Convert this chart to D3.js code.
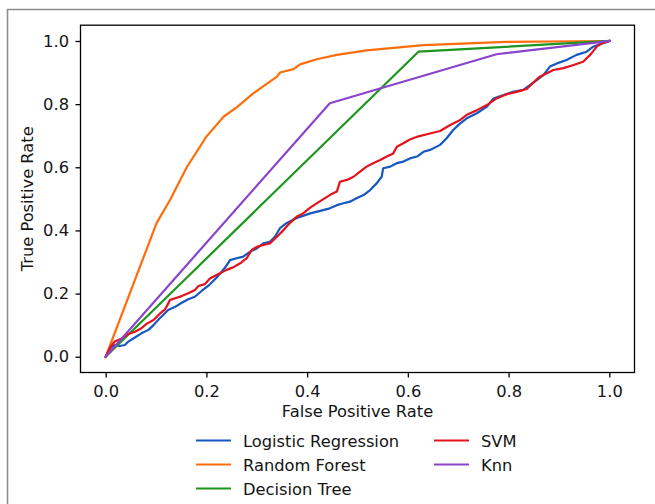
<!DOCTYPE html>
<html>
<head>
<meta charset="utf-8">
<script src="https://cdn.jsdelivr.net/npm/d3@7"></script>
<style>
  html, body { margin: 0; padding: 0; background: #fff; }
  svg { display: block; font-family: "DejaVu Sans", sans-serif; }
</style>
</head>
<body>
<svg id="chart" width="655" height="504"></svg>
<script>
// ---- data ----
const seriesNames = ["Logistic Regression", "Random Forest", "Decision Tree", "SVM", "Knn"];
const seriesColors = ["#1558c0", "#ff6d0a", "#1e961e", "#e3121c", "#8a44cc"];

const lrFpr = [0,0.009,0.018,0.028,0.038,0.045,0.058,0.071,0.085,0.095,0.105,0.114,0.124,0.138,0.151,0.164,0.177,0.191,0.204,0.220,0.236,0.247,0.260,0.273,0.287,0.300,0.313,0.326,0.336,0.346,0.359,0.373,0.386,0.406,0.426,0.445,0.459,0.472,0.485,0.498,0.512,0.525,0.538,0.548,0.551,0.565,0.578,0.591,0.604,0.618,0.631,0.644,0.664,0.677,0.690,0.704,0.717,0.737,0.757,0.770,0.790,0.809,0.829,0.843,0.856,0.869,0.882,0.896,0.915,0.935,0.955,0.968,0.982,1];
const lrTpr = [0,0.027,0.037,0.034,0.037,0.048,0.061,0.074,0.085,0.100,0.118,0.132,0.148,0.158,0.171,0.182,0.190,0.209,0.225,0.250,0.280,0.306,0.312,0.317,0.333,0.343,0.359,0.364,0.380,0.407,0.423,0.435,0.443,0.454,0.462,0.470,0.480,0.486,0.491,0.502,0.512,0.528,0.549,0.570,0.597,0.602,0.613,0.618,0.628,0.634,0.649,0.655,0.671,0.692,0.718,0.739,0.755,0.771,0.792,0.818,0.829,0.839,0.845,0.861,0.876,0.892,0.919,0.929,0.940,0.956,0.966,0.982,0.990,1];

const rfFpr = [0,0.101,0.128,0.161,0.200,0.234,0.260,0.293,0.340,0.346,0.373,0.386,0.419,0.459,0.518,0.631,0.796,1];
const rfTpr = [0,0.423,0.497,0.600,0.697,0.760,0.790,0.834,0.887,0.900,0.911,0.926,0.942,0.956,0.970,0.987,0.997,1];

const dtFpr = [0,0.621,1];
const dtTpr = [0,0.966,1];

const svmFpr = [0,0.009,0.018,0.032,0.045,0.058,0.071,0.081,0.095,0.108,0.118,0.128,0.138,0.151,0.164,0.177,0.184,0.197,0.207,0.220,0.227,0.240,0.253,0.267,0.280,0.290,0.300,0.313,0.326,0.340,0.353,0.366,0.379,0.392,0.406,0.426,0.445,0.459,0.465,0.479,0.492,0.505,0.518,0.531,0.545,0.558,0.571,0.578,0.591,0.604,0.621,0.644,0.664,0.684,0.704,0.717,0.737,0.757,0.776,0.796,0.816,0.836,0.849,0.862,0.876,0.889,0.909,0.929,0.948,0.962,0.975,0.985,1];
const svmTpr = [0,0.030,0.048,0.058,0.072,0.079,0.090,0.104,0.116,0.137,0.150,0.180,0.185,0.192,0.201,0.211,0.224,0.230,0.248,0.259,0.264,0.275,0.283,0.296,0.312,0.338,0.348,0.354,0.359,0.380,0.401,0.424,0.443,0.454,0.472,0.493,0.512,0.523,0.554,0.560,0.570,0.586,0.602,0.613,0.623,0.634,0.644,0.665,0.676,0.688,0.698,0.707,0.715,0.734,0.750,0.766,0.781,0.797,0.818,0.831,0.839,0.848,0.868,0.887,0.898,0.908,0.914,0.924,0.934,0.956,0.982,0.993,1];

const knnFpr = [0,0.445,0.776,1];
const knnTpr = [0,0.803,0.958,1];

const xTicks = [0.0, 0.2, 0.4, 0.6, 0.8, 1.0];
const yTicks = [0.0, 0.2, 0.4, 0.6, 0.8, 1.0];
const xLabel = "False Positive Rate";
const yLabel = "True Positive Rate";

// ---- layout ----
const svg = d3.select("#chart");
const plot = { left: 80.5, right: 634.5, top: 25.2, bottom: 372.5 };
const x = d3.scaleLinear().domain([-0.05, 1.05]).range([plot.left, plot.right]);
const y = d3.scaleLinear().domain([-0.05, 1.05]).range([plot.bottom, plot.top]);
const FS = "16.3px";
const TXT = "#151515";

svg.append("rect").attr("width", 655).attr("height", 504).attr("fill", "#fff");

// outer frame (cropped screenshot border)
svg.append("path")
  .attr("d", "M7.5,504 V9.5 H655")
  .attr("fill", "none").attr("stroke", "#8c8c8c").attr("stroke-width", 1.6);

// series
const series = [
  [lrFpr, lrTpr], [rfFpr, rfTpr], [dtFpr, dtTpr], [svmFpr, svmTpr], [knnFpr, knnTpr]
];
const line = d3.line().x(d => x(d[0])).y(d => y(d[1]));
const g = svg.append("g");
series.forEach((s, i) => {
  const pts = s[0].map((v, j) => [v, s[1][j]]);
  g.append("path").datum(pts)
    .attr("d", line)
    .attr("fill", "none")
    .attr("stroke", seriesColors[i])
    .attr("stroke-width", 2.2)
    .attr("stroke-linejoin", "round")
    .attr("stroke-linecap", "square");
});

// spines
svg.append("rect")
  .attr("x", plot.left).attr("y", plot.top)
  .attr("width", plot.right - plot.left).attr("height", plot.bottom - plot.top)
  .attr("fill", "none").attr("stroke", "#000").attr("stroke-width", 1.3);

// axes
const xAxis = d3.axisBottom(x).tickValues(xTicks).tickFormat(d3.format(".1f"))
  .tickSize(5).tickSizeOuter(0).tickPadding(8);
const gx = svg.append("g").attr("transform", `translate(0,${plot.bottom})`).call(xAxis);
gx.select(".domain").remove();
gx.selectAll("line").attr("stroke", "#000").attr("stroke-width", 1.3);
gx.selectAll("text").attr("font-size", FS).attr("font-family", "DejaVu Sans").attr("fill", TXT);

const yAxis = d3.axisLeft(y).tickValues(yTicks).tickFormat(d3.format(".1f"))
  .tickSize(5).tickSizeOuter(0).tickPadding(6.5);
const gy = svg.append("g").attr("transform", `translate(${plot.left},0)`).call(yAxis);
gy.select(".domain").remove();
gy.selectAll("line").attr("stroke", "#000").attr("stroke-width", 1.3);
gy.selectAll("text").attr("font-size", FS).attr("font-family", "DejaVu Sans").attr("fill", TXT);

// axis labels
svg.append("text").attr("x", (x(0) + x(1)) / 2).attr("y", 417)
  .attr("text-anchor", "middle").attr("font-size", FS).attr("fill", TXT).text(xLabel);
svg.append("text").attr("transform", `translate(33,${(y(0) + y(1)) / 2}) rotate(-90)`)
  .attr("text-anchor", "middle").attr("font-size", FS).attr("fill", TXT).text(yLabel);

// legend
const legendCols = [[0, 1, 2], [3, 4]];
const colX = [196, 434];
const rowY = [440.5, 464.5, 488.5];
legendCols.forEach((col, ci) => {
  col.forEach((si, ri) => {
    const lg = svg.append("g");
    lg.append("line")
      .attr("x1", colX[ci]).attr("x2", colX[ci] + 35)
      .attr("y1", rowY[ri]).attr("y2", rowY[ri])
      .attr("stroke", seriesColors[si]).attr("stroke-width", 2.2);
    lg.append("text")
      .attr("x", colX[ci] + 47).attr("y", rowY[ri] + 6)
      .attr("font-size", FS).attr("fill", TXT).text(seriesNames[si]);
  });
});
</script>
</body>
</html>
